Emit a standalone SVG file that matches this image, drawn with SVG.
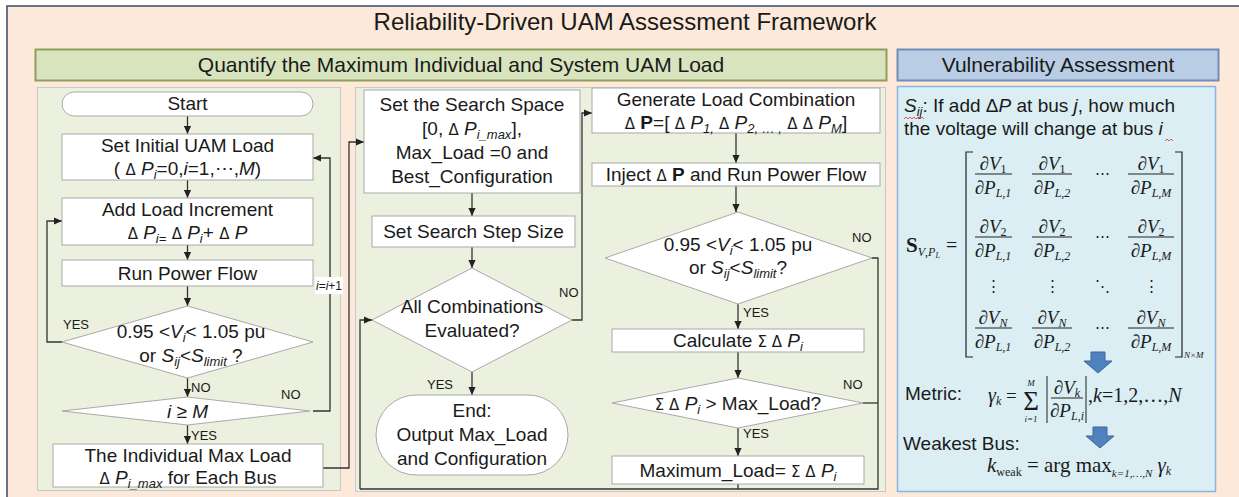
<svg xmlns="http://www.w3.org/2000/svg" width="1239" height="497" viewBox="0 0 1239 497">
<defs>
<marker id="ah" viewBox="0 0 10 10" refX="10" refY="5" markerWidth="8" markerHeight="8" markerUnits="userSpaceOnUse" orient="auto"><path d="M0,0.5 L10,5 L0,9.5 z" fill="#222"/></marker>
<style>
.t{font-family:"Liberation Sans",Arial,sans-serif;font-size:19px;fill:#1a1a1a}
.h{font-family:"Liberation Sans",Arial,sans-serif;font-size:21px;fill:#1a1a1a}
.lb{font-family:"Liberation Sans",Arial,sans-serif;font-size:13px;fill:#1a1a1a}
.it{font-style:italic}
.sb{font-size:13px;font-style:italic}
.sy{font-family:"DejaVu Sans",sans-serif;font-size:15px}
.node{fill:#fff;stroke:#a9a9a9;stroke-width:1}
.c{fill:none;stroke:#333;stroke-width:1.3}
.ca{fill:none;stroke:#333;stroke-width:1.3;marker-end:url(#ah)}
.mi{font-family:"Liberation Serif","Times New Roman",serif;font-style:italic;font-size:19px;fill:#1a1a1a}
.mr{font-family:"Liberation Serif","Times New Roman",serif;font-size:19px;fill:#1a1a1a}
.ms{font-size:12px}
.fl{stroke:#222;stroke-width:1}
.barr{fill:#4f81bd;stroke:#3c6798;stroke-width:1}
</style>
</defs>

<!-- frame -->
<rect x="7" y="6" width="1240" height="500" fill="#fde9d9" stroke="#34476b" stroke-width="1.5"/>
<text x="625" y="30" class="h" text-anchor="middle" style="font-size:24px">Reliability-Driven UAM Assessment Framework</text>

<g id="header-quantify">
<rect x="35.5" y="49.5" width="851" height="31" fill="#d7e4bd" stroke="#8f9e5a" stroke-width="2"/>
<text x="461" y="72" class="h" text-anchor="middle">Quantify the Maximum Individual and System UAM Load</text>
</g>
<g id="header-vuln">
<rect x="897.5" y="49.5" width="321" height="31" fill="#b9cde5" stroke="#6f8db9" stroke-width="2"/>
<text x="1058" y="72" class="h" text-anchor="middle">Vulnerability Assessment</text>
</g>

<rect x="37.5" y="87.5" width="303" height="403" fill="#ebf1de" stroke="#c8c8c8"/>
<rect x="355.5" y="87.5" width="530" height="404" fill="#ebf1de" stroke="#c8c8c8"/>
<rect x="897.5" y="86.5" width="318" height="405" fill="#dbeef4" stroke="#8db3e2" stroke-width="1.5"/>

<!-- connectors -->
<g id="connectors">
<path class="ca" d="M187.5,116 V134"/>
<path class="ca" d="M187.5,180 V198"/>
<path class="ca" d="M187.5,245 V260"/>
<path class="ca" d="M187.5,286 V306"/>
<path class="ca" d="M187.5,378 V397"/>
<path class="ca" d="M187.5,425 V444"/>
<path class="ca" d="M62,342 H47 V221 H62"/>
<path class="ca" d="M313,411 H330 V158 H313"/>
<path class="ca" d="M323,468 H349 V142 H364"/>
<path class="ca" d="M472,193 V216"/>
<path class="ca" d="M472,247 V268"/>
<path class="ca" d="M572,320 H582 V113 H592"/>
<path class="ca" d="M472,372 V395"/>
<path class="ca" d="M736,133 V163"/>
<path class="ca" d="M736,186 V212"/>
<path class="ca" d="M738,304 V329"/>
<path class="ca" d="M738,352 V378"/>
<path class="ca" d="M738,428 V456"/>
<path class="c" d="M872,258 H878 V489 H360"/>
<path class="c" d="M863,403 H878"/>
<path class="c" d="M738,484 V489"/>
<path class="ca" d="M360,489 V320 H372"/>
<text x="63" y="329" class="lb">YES</text>
<text x="191" y="392" class="lb">NO</text>
<text x="281" y="399" class="lb">NO</text>
<text x="191" y="440" class="lb">YES</text>
<rect x="315" y="277" width="28" height="17" fill="#fff"/>
<text x="329" y="290" class="lb" text-anchor="middle" style="font-size:12px"><tspan class="it">i</tspan>=<tspan class="it">i</tspan>+1</text>
<text x="559" y="297" class="lb">NO</text>
<text x="427" y="389" class="lb">YES</text>
<text x="852" y="242" class="lb">NO</text>
<text x="743" y="317" class="lb">YES</text>
<text x="843" y="389" class="lb">NO</text>
<text x="743" y="438" class="lb">YES</text>
</g>

<!-- left column -->
<g id="start">
<rect class="node" x="62" y="92" width="251" height="24" rx="12"/>
<text x="187.5" y="110" class="t" text-anchor="middle">Start</text>
</g>
<g id="set-initial">
<rect class="node" x="62" y="134" width="251" height="46"/>
<text x="187.5" y="152" class="t" text-anchor="middle">Set Initial UAM Load</text>
<text x="187.5" y="175" class="t" text-anchor="middle">( <tspan class="sy">Δ</tspan> <tspan class="it">P</tspan><tspan class="sb" dy="4">i</tspan><tspan dy="-4">=0,</tspan><tspan class="it">i</tspan>=1,⋯,<tspan class="it">M</tspan>)</text>
</g>
<g id="add-load">
<rect class="node" x="62" y="198" width="251" height="47"/>
<text x="187.5" y="216" class="t" text-anchor="middle">Add Load Increment</text>
<text x="187.5" y="239" class="t" text-anchor="middle"><tspan class="sy">Δ</tspan> <tspan class="it">P</tspan><tspan class="sb" dy="4">i=</tspan><tspan dy="-4"> </tspan><tspan class="sy">Δ</tspan> <tspan class="it">P</tspan><tspan class="sb" dy="4">i</tspan><tspan dy="-4">+ </tspan><tspan class="sy">Δ</tspan> <tspan class="it">P</tspan></text>
</g>
<g id="run-pf">
<rect class="node" x="62" y="260" width="251" height="26"/>
<text x="187.5" y="280" class="t" text-anchor="middle">Run Power Flow</text>
</g>
<g id="check-limits-1">
<polygon class="node" points="187.5,306 313,342 187.5,378 62,342"/>
<text x="191" y="338" class="t" text-anchor="middle">0.95 &lt;<tspan class="it">V</tspan><tspan class="sb" dy="4">i</tspan><tspan dy="-4">&lt; 1.05 pu</tspan></text>
<text x="191" y="362" class="t" text-anchor="middle">or <tspan class="it">S</tspan><tspan class="sb" dy="4">ij</tspan><tspan dy="-4">&lt;</tspan><tspan class="it">S</tspan><tspan class="sb" dy="4">limit</tspan><tspan dy="-4"> ?</tspan></text>
</g>
<g id="check-i">
<polygon class="node" points="187.5,397 310,411 187.5,425 62,411"/>
<text x="187.5" y="418" class="t it" text-anchor="middle">i ≥ M</text>
</g>
<g id="individual-max">
<rect class="node" x="53" y="444" width="270" height="43"/>
<text x="188" y="462" class="t" text-anchor="middle">The Individual Max Load</text>
<text x="188" y="484" class="t" text-anchor="middle"><tspan class="sy">Δ</tspan> <tspan class="it">P</tspan><tspan class="sb" dy="4">i_max</tspan><tspan dy="-4"> for Each Bus</tspan></text>
</g>

<!-- middle column -->
<g id="search-space">
<rect class="node" x="364" y="90" width="216" height="103"/>
<text x="472" y="111" class="t" text-anchor="middle">Set the Search Space</text>
<text x="472" y="135" class="t" text-anchor="middle">[0, <tspan class="sy">Δ</tspan> <tspan class="it">P</tspan><tspan class="sb" dy="4">i_max</tspan><tspan dy="-4">],</tspan></text>
<text x="472" y="159" class="t" text-anchor="middle">Max_Load =0 and</text>
<text x="472" y="183" class="t" text-anchor="middle">Best_Configuration</text>
</g>
<g id="step-size">
<rect class="node" x="372" y="216" width="203" height="31"/>
<text x="473.5" y="238" class="t" text-anchor="middle">Set Search Step Size</text>
</g>
<g id="all-evaluated">
<polygon class="node" points="472,268 572,320 472,372 372,320"/>
<text x="472" y="313" class="t" text-anchor="middle">All Combinations</text>
<text x="472" y="337" class="t" text-anchor="middle">Evaluated?</text>
</g>
<g id="end">
<rect class="node" x="376" y="395" width="192" height="80" rx="40"/>
<text x="472" y="417" class="t" text-anchor="middle">End:</text>
<text x="472" y="441" class="t" text-anchor="middle">Output Max_Load</text>
<text x="472" y="465" class="t" text-anchor="middle">and Configuration</text>
</g>

<!-- right-middle column -->
<g id="generate">
<rect class="node" x="592" y="88" width="288" height="45"/>
<text x="736" y="106" class="t" text-anchor="middle">Generate Load Combination</text>
<text x="736" y="129" class="t" text-anchor="middle"><tspan class="sy">Δ</tspan> <tspan font-weight="bold">P</tspan>=[ <tspan class="sy">Δ</tspan> <tspan class="it">P</tspan><tspan class="sb" dy="4">1,</tspan><tspan dy="-4"> </tspan><tspan class="sy">Δ</tspan> <tspan class="it">P</tspan><tspan class="sb" dy="4">2, … ,</tspan><tspan dy="-4"> </tspan><tspan class="sy">Δ</tspan> <tspan class="sy">Δ</tspan> <tspan class="it">P</tspan><tspan class="sb" dy="4">M</tspan><tspan dy="-4">]</tspan></text>
</g>
<g id="inject">
<rect class="node" x="592" y="163" width="288" height="23"/>
<text x="736" y="181" class="t" text-anchor="middle">Inject <tspan class="sy">Δ</tspan> <tspan font-weight="bold">P</tspan> and Run Power Flow</text>
</g>
<g id="check-limits-2">
<polygon class="node" points="738,212 872,258 738,304 605,258"/>
<text x="738" y="251" class="t" text-anchor="middle">0.95 &lt;<tspan class="it">V</tspan><tspan class="sb" dy="4">i</tspan><tspan dy="-4">&lt; 1.05 pu</tspan></text>
<text x="738" y="274" class="t" text-anchor="middle">or <tspan class="it">S</tspan><tspan class="sb" dy="4">ij</tspan><tspan dy="-4">&lt;</tspan><tspan class="it">S</tspan><tspan class="sb" dy="4">limit</tspan><tspan dy="-4">?</tspan></text>
</g>
<g id="calculate">
<rect class="node" x="612" y="329" width="252" height="23"/>
<text x="738" y="347" class="t" text-anchor="middle">Calculate <tspan class="sy">Σ Δ</tspan> <tspan class="it">P</tspan><tspan class="sb" dy="4">i</tspan></text>
</g>
<g id="compare-max">
<polygon class="node" points="738,378 863,403 738,428 612,403"/>
<text x="738" y="410" class="t" text-anchor="middle"><tspan class="sy">Σ Δ</tspan> <tspan class="it">P</tspan><tspan class="sb" dy="4">i</tspan><tspan dy="-4"> &gt; Max_Load?</tspan></text>
</g>
<g id="maximum-load">
<rect class="node" x="612" y="456" width="252" height="28"/>
<text x="738" y="477" class="t" text-anchor="middle">Maximum_Load= <tspan class="sy">Σ Δ</tspan> <tspan class="it">P</tspan><tspan class="sb" dy="4">i</tspan></text>
</g>

<!-- vulnerability panel -->
<g id="vulnerability">
<text x="904" y="112" class="t"><tspan class="it">S</tspan><tspan class="sb" dy="4">ij</tspan><tspan dy="-4">: If add Δ</tspan><tspan class="it">P</tspan> at bus <tspan class="it">j</tspan>, how much</text>
<text x="904" y="135" class="t">the voltage will change at bus <tspan class="it">i</tspan></text>
<path d="M904,119 l2,-2 l2,2 l2,-2 l2,2 l2,-2 l2,2 l2,-2 l2,2 l2,-2 l2,2" fill="none" stroke="#e03030" stroke-width="0.8"/>
<path d="M1165,141 l2,-2 l2,2 l2,-2 l2,2" fill="none" stroke="#e03030" stroke-width="0.8"/>

<text x="906" y="252" class="mr" style="font-size:21px;font-weight:bold">S<tspan class="ms it" font-weight="normal" dy="4">V</tspan><tspan class="ms" font-weight="normal">,</tspan><tspan class="ms it" font-weight="normal">P</tspan><tspan font-size="8" font-style="italic" font-weight="normal" dy="2">L</tspan></text>
<text x="946" y="252" class="mr" style="font-size:20px">=</text>
<path d="M973,152 H966 V357 H973" fill="none" stroke="#222" stroke-width="1.2"/>
<path d="M1175,152 H1182 V357 H1175" fill="none" stroke="#222" stroke-width="1.2"/>

<text x="993" y="170" class="mi" text-anchor="middle">∂V<tspan class="ms" font-style="normal" dy="3">1</tspan></text>
<line class="fl" x1="975" y1="174" x2="1012" y2="174"/>
<text x="993" y="194" class="mi" text-anchor="middle">∂P<tspan class="ms" dy="3">L,1</tspan></text>
<text x="1052" y="170" class="mi" text-anchor="middle">∂V<tspan class="ms" font-style="normal" dy="3">1</tspan></text>
<line class="fl" x1="1032" y1="174" x2="1072" y2="174"/>
<text x="1052" y="194" class="mi" text-anchor="middle">∂P<tspan class="ms" dy="3">L,2</tspan></text>
<text x="1102" y="178" class="mr" text-anchor="middle" style="font-size:15px">⋯</text>
<text x="1151" y="170" class="mi" text-anchor="middle">∂V<tspan class="ms" font-style="normal" dy="3">1</tspan></text>
<line class="fl" x1="1128" y1="174" x2="1174" y2="174"/>
<text x="1151" y="194" class="mi" text-anchor="middle">∂P<tspan class="ms" dy="3">L,M</tspan></text>

<text x="993" y="233" class="mi" text-anchor="middle">∂V<tspan class="ms" font-style="normal" dy="3">2</tspan></text>
<line class="fl" x1="975" y1="237" x2="1012" y2="237"/>
<text x="993" y="257" class="mi" text-anchor="middle">∂P<tspan class="ms" dy="3">L,1</tspan></text>
<text x="1052" y="233" class="mi" text-anchor="middle">∂V<tspan class="ms" font-style="normal" dy="3">2</tspan></text>
<line class="fl" x1="1032" y1="237" x2="1072" y2="237"/>
<text x="1052" y="257" class="mi" text-anchor="middle">∂P<tspan class="ms" dy="3">L,2</tspan></text>
<text x="1102" y="241" class="mr" text-anchor="middle" style="font-size:15px">⋯</text>
<text x="1151" y="233" class="mi" text-anchor="middle">∂V<tspan class="ms" font-style="normal" dy="3">2</tspan></text>
<line class="fl" x1="1128" y1="237" x2="1174" y2="237"/>
<text x="1151" y="257" class="mi" text-anchor="middle">∂P<tspan class="ms" dy="3">L,M</tspan></text>

<text x="993" y="291" class="mr" text-anchor="middle" style="font-size:15px">⋮</text>
<text x="1052" y="291" class="mr" text-anchor="middle" style="font-size:15px">⋮</text>
<text x="1102" y="291" class="mr" text-anchor="middle" style="font-size:15px">⋱</text>
<text x="1151" y="291" class="mr" text-anchor="middle" style="font-size:15px">⋮</text>

<text x="993" y="324" class="mi" text-anchor="middle">∂V<tspan class="ms" dy="3">N</tspan></text>
<line class="fl" x1="975" y1="328" x2="1012" y2="328"/>
<text x="993" y="348" class="mi" text-anchor="middle">∂P<tspan class="ms" dy="3">L,1</tspan></text>
<text x="1052" y="324" class="mi" text-anchor="middle">∂V<tspan class="ms" dy="3">N</tspan></text>
<line class="fl" x1="1032" y1="328" x2="1072" y2="328"/>
<text x="1052" y="348" class="mi" text-anchor="middle">∂P<tspan class="ms" dy="3">L,2</tspan></text>
<text x="1102" y="332" class="mr" text-anchor="middle" style="font-size:15px">⋯</text>
<text x="1151" y="324" class="mi" text-anchor="middle">∂V<tspan class="ms" dy="3">N</tspan></text>
<line class="fl" x1="1128" y1="328" x2="1174" y2="328"/>
<text x="1151" y="348" class="mi" text-anchor="middle">∂P<tspan class="ms" dy="3">L,M</tspan></text>
<text x="1184" y="358" class="mi" style="font-size:9px">N×M</text>

<path class="barr" d="M1091,352 H1105 V361 H1112 L1098,373 L1084,361 H1091 Z"/>

<text x="905" y="400" class="t">Metric:</text>
<text x="988" y="402" class="mi" style="font-size:20px">γ<tspan class="ms" dy="3">k</tspan></text>
<text x="1006" y="402" class="mr">=</text>
<text x="1031" y="410" class="mr" text-anchor="middle" style="font-size:27px">Σ</text>
<text x="1031" y="386" class="mi" text-anchor="middle" style="font-size:9px">M</text>
<text x="1031" y="422" class="mi" text-anchor="middle" style="font-size:9px">i=1</text>
<line class="fl" x1="1047" y1="376" x2="1047" y2="423"/>
<line class="fl" x1="1086" y1="376" x2="1086" y2="423"/>
<text x="1067" y="394" class="mi" text-anchor="middle">∂V<tspan class="ms" dy="3">k</tspan></text>
<line class="fl" x1="1051" y1="398" x2="1083" y2="398"/>
<text x="1067" y="417" class="mi" text-anchor="middle">∂P<tspan class="ms" dy="3">L,i</tspan></text>
<text x="1088" y="402" class="mr" style="font-size:20px">,<tspan class="it">k</tspan>=1,2,…,<tspan class="it">N</tspan></text>

<path class="barr" d="M1093,427 H1107 V436 H1114 L1100,448 L1086,436 H1093 Z"/>

<text x="903" y="450" class="t">Weakest Bus:</text>
<text x="987" y="472" class="mi" style="font-size:21px">k<tspan class="ms" font-style="normal" dy="4">weak</tspan><tspan font-style="normal" font-size="21" dy="-4"> = arg max</tspan><tspan font-size="11" dy="5">k=1,…,N</tspan><tspan font-size="21" dy="-5"> γ</tspan><tspan class="ms" dy="3">k</tspan></text>
</g>
</svg>
